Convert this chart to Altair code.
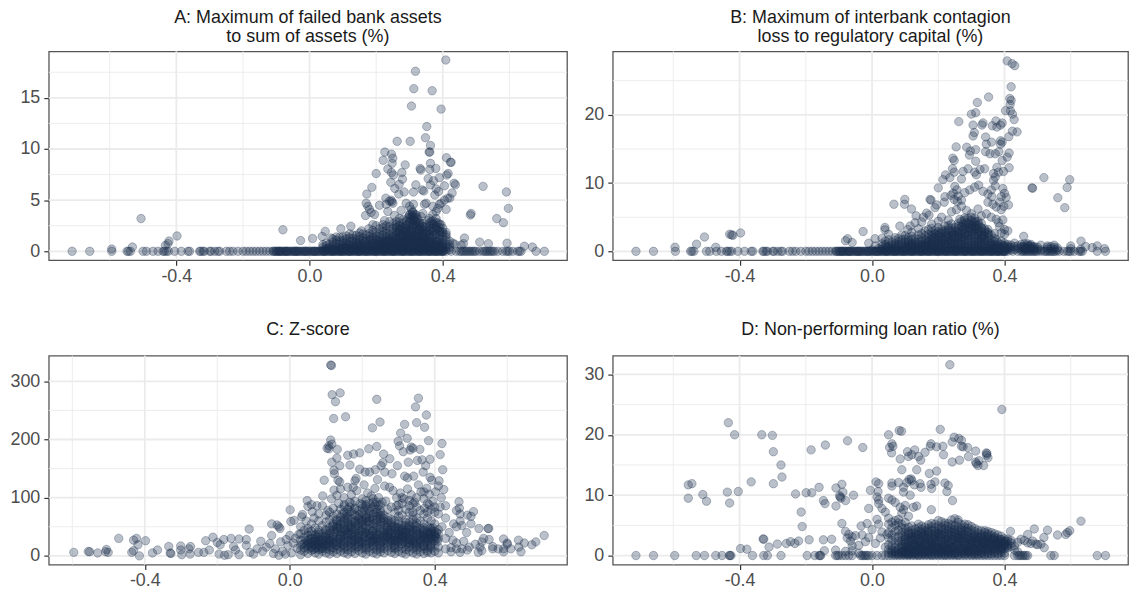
import altair as alt
import pandas as pd

# ---- shared baseline x values (points lying on y = 0 in A, near 0 in B)
base_x = [-.713,-.66,-.594,-.548,-.544,-.538,-.5,-.49,-.47,-.455,-.44,-.436,-.43,-.424,-.405,-.385,-.365,-.36,-.33,-.327,-.32,-.316,-.3,-.296,-.285,-.275,-.27,-.25,-.24,-.23,-.215,-.2,-.19,-.18,-.17,-.16,-.15,-.14,-.13,-.12,
 -.11,-.104,-.098,-.09,-.083,-.076,-.07,-.062,-.055,-.047,-.04,-.033,-.025,-.018,-.01,-.002,.006,.013,.021,.028,.036,.044,.05,.058,.066,.073,.08,.088,.096,.103,.11,.118,.125,.133,.141,.148,.155,.163,.17,.178,.186,.193,.2,.208,.215,.223,.231,.238,.246,.253,.26,.268,.276,.283,.29,.298,.306,.313,.32,.328,.336,.343,.35,.358,.366,.373,.38,.388,.396,.403,
 .41,.425,.44,.45,.455,.46,.465,.47,.475,.48,.485,.49,.495,.5,.51,.52,.525,.53,.535,.54,.545,.55,.555,.565,.58,.59,.595,.6,.61,.625,.63,.635,.68,.705]
zero_dense = [-.108,-.1,-.094,-.086,-.08,-.072,-.066,-.058,-.05,-.044,-.036,-.03,-.022,-.014,-.006,.002,.01,.017,.025,.032,.04,.047,.055,.062,.07,.077,.085,.092,.1,.107,.115,.122,.13,.137,.145,.152,.16,.167,.175,.182,.19,.197,.205,.212,.22,.227,.235,.242,.25,.257,.265,.272,.28,.287,.295,.302,.31,.317,.325,.332,.34,.347,.355,.362,.37,.377,.385,.392,.4,-.091,-.069,-.041,-.012,.015,.043,.068,.094,.12,.148,.171,.199,.224,.251,.279,.304,.33,.359,.381,.399]

a_upper = [(.409,18.7),(.318,17.6),(.313,15.9),(.368,15.7),(.306,14.2),(.395,13.9),(.352,12.2),(.348,11.1),(.263,10.75),(.302,10.75),(.363,10.35),(.226,9.7),(.246,9.5),(.359,9.7),(.361,9.7),(.411,9.15),(.221,8.9),(.25,9.1),(.423,8.7),(.425,8.7),(.363,8.6),(.248,8.6),(.287,8.45),(.332,8.1),(.334,7.95),(.235,8.05),(.361,8.0),(.379,8.1),(.2,7.6),(.246,7.7),(.252,7.45),(.277,7.7),(.416,7.6),(.412,7.45),(.356,7.1),(.279,7.05),(.244,6.75),(.269,6.55),(.319,6.5),(.363,6.5),(.434,6.65),(.438,6.5),(.187,6.25),(.256,6.15),(.338,6.0),(.343,5.9),(.312,5.8),(.284,5.8),(.268,5.6),(.172,5.6),(.387,5.85),(.376,5.5),(.428,5.7),(.229,5.2),(.245,5.0),(.421,5.2),(.372,6.9),(.39,7.2),(.405,6.4),(.38,6.1)]
a_mid = [(.17,4.7),(.175,4.4),(.18,4.1),(.168,3.5),(.185,3.8),(.195,3.6),(.19,2.6),(.2,2.5),(.22,2.6),(.23,4.6),(.24,4.9),(.247,4.85),(.25,4.7),(.235,3.9),(.255,3.5),(.26,2.9),(.27,3.2),(.275,4.0),(.29,4.7),(.3,4.4),(.305,4.1),(.31,3.8),(.3,3.5),(.315,3.3),(.32,2.9),(.335,3.4),(.345,4.6),(.35,4.7),(.36,3.2),(.365,2.9),(.37,4.4),(.38,3.9),(.385,4.2),(.39,4.6),(.395,4.7),(.405,5.0),(.41,4.1),(.415,5.2),(.38,3.2),(.385,2.8),(.395,2.6),(.34,3.7),(.355,3.0),(.33,2.7),(.21,4.5),(.225,3.0),(.312,4.6),(.37,3.6)]
a_sides = [(.521,6.35),(.591,5.8),(.597,4.2),(.485,3.7),(.483,3.55),(.562,3.2),(.582,2.8),(.465,1.3),(.511,.9),(.537,.75),(.593,.8),(.645,.5),(.669,.42),(.43,.8),(.436,.7),(.455,.6),(.462,.75),(-.506,3.2),(-.398,1.5),(-.422,1.0),(-.425,.75),(-.433,.58),(-.594,.22),(-.532,.42),(-.08,2.1),(-.027,1.05),(.009,1.25),(.047,1.95),(.038,1.45),(.094,2.2),(.124,2.45),(.065,1.3),(.156,2.0),(.16,1.7),(.178,2.2)]
a_columns = [(.04,[.15,.4,.65]),(.05,[.1,.25,.55,.8]),(.06,[.2,.4,.7,.3]),(.07,[.15,.35,.6,.9,1.2]),(.08,[.1,.3,.5,.8,1.1,1.4]),(.09,[.2,.45,.7,1.0,1.35]),(.1,[.1,.3,.55,.8,1.05,1.4]),(.11,[.15,.35,.6,.9,1.2,1.5]),(.12,[.2,.4,.65,.95,1.3,1.7]),(.13,[.1,.3,.5,.8,1.0,1.25,1.6]),(.14,[.15,.4,.7,.95,1.2,1.55]),(.15,[.2,.35,.6,.9,1.15,1.45,1.8]),(.16,[.1,.3,.55,.75,1.05,1.3]),(.17,[.2,.45,.7,1.0,1.25,1.6]),(.18,[.15,.35,.6,.85,1.1,1.45,1.75]),(.19,[.1,.3,.5,.8,1.05,1.35,1.7,2.05]),(.2,[.2,.4,.65,.9,1.2,1.5,1.85]),(.21,[.15,.35,.6,.85,1.1,1.4,1.7,2.2]),(.22,[.1,.3,.5,.75,1.0,1.3,1.6,1.95,2.3]),(.23,[.2,.4,.65,.9,1.15,1.45,1.75,2.1,2.5]),(.24,[.15,.35,.55,.8,1.05,1.3,1.6,2.0,2.4,2.9]),(.25,[.1,.3,.5,.7,.95,1.2,1.5,1.8,2.2,2.7]),(.26,[.2,.4,.6,.85,1.1,1.35,1.65,1.95,2.35,2.6]),(.27,[.15,.35,.55,.75,1.0,1.25,1.5,1.8,2.1,2.5,2.85]),(.28,[.1,.3,.5,.7,.9,1.15,1.4,1.7,2.0,2.3,2.75,3.1]),(.29,[.2,.4,.6,.8,1.05,1.3,1.55,1.85,2.15,2.55,2.95]),(.3,[.15,.35,.55,.75,.95,1.2,1.45,1.75,2.05,2.4,2.8,3.2,3.6]),(.31,[.1,.3,.5,.7,.9,1.1,1.35,1.65,1.95,2.3,2.65,3.05,3.4,3.85]),(.32,[.2,.4,.6,.8,1.05,1.3,1.6,1.9,2.2,2.55,2.95,3.55]),(.33,[.15,.35,.55,.75,1.0,1.25,1.5,1.85,2.15,2.5,2.8]),(.34,[.1,.3,.5,.7,.95,1.2,1.45,1.8,2.1,2.45,2.7]),(.35,[.2,.4,.6,.85,1.1,1.35,1.65,2.0,2.35]),(.36,[.15,.35,.55,.8,1.05,1.3,1.7,2.05,2.5,2.75]),(.37,[.1,.3,.5,.75,1.0,1.4,1.9,2.3,2.65,3.0]),(.38,[.2,.4,.65,.9,1.25,1.7,2.15,2.5,2.8]),(.39,[.15,.35,.6,.85,1.2,1.6,2.0,2.35,2.65]),(.4,[.1,.3,.55,.8,1.1,1.5,1.9,2.25]),(.41,[.2,.45,.7,1.05,1.4,1.85]),(.42,[.15,.4,.65,1.0])]
a_core = [(.215,.3),(.225,.7),(.235,1.0),(.245,.2),(.255,.9),(.265,1.3),(.275,.4),(.285,1.0),(.295,1.6),(.305,.5),(.315,1.2),(.325,2.0),(.335,.8),(.345,1.5),(.355,.3),(.265,1.9),(.275,1.6),(.285,2.3),(.295,.8),(.305,2.2),(.315,2.7),(.325,1.4),(.335,2.3),(.345,1.0),(.355,1.9),(.365,.9),(.375,1.6),(.385,1.1),(.395,.7),(.205,1.0),(.195,.6),(.185,1.2),(.175,.5),(.165,.9),(.155,.3),(.145,.8),(.135,.4),(.125,.2),(.115,.7),(.105,.4),(.095,.3),(.253,.5),(.268,.7),(.283,.5),(.298,.3),(.308,1.4),(.318,.8),(.328,.3),(.338,1.6),(.348,.6),(.358,.9),(.368,.4),(.378,.7),(.388,.5),(.398,.3),(.238,.5),(.228,.2),(.218,.9),(.208,.4),(.198,.2),(.188,.8),(.262,2.3),(.312,3.1),(.302,2.9),(.322,3.3),(.308,3.6),(.29,2.5),(.276,2.3),(.342,2.4),(.37,2.7),(.38,2.3),(.392,1.9)]
a_extra = [(.272,.4),(.281,.8),(.289,1.2),(.297,1.6),(.303,2.0),(.311,.6),(.318,1.0),(.326,1.7),(.333,.4),(.341,1.1),(.349,1.8),(.357,.5),(.366,1.3),(.374,.4),(.382,.9),(.391,.5),(.26,.8),(.252,1.4),(.244,.6),(.236,1.2),(.228,.9),(.22,.5),(.212,.7),(.204,.2),(.3,1.0),(.31,2.5),(.32,1.5),(.33,2.1),(.29,2.0),(.28,1.6),(.27,2.1),(.35,.9),(.36,1.6),(.34,.7),(.305,3.2),(.316,3.6),(.326,3.1),(.296,3.3),(.364,2.2),(.384,2.1),(.373,2.0),(.4,1.8),(.41,1.6),(.25,.3),(.17,.2),(.15,.5),(.13,.2),(.11,.3),(.09,.2),(.07,.2)]

b_upper = [(.408,27.9),(.423,27.5),(.431,27.2),(.42,24.1),(.352,22.6),(.318,21.8),(.416,22.4),(.42,22.1),(.417,21.5),(.403,20.6),(.418,20.6),(.3,20.1),(.313,20.3),(.424,20.1),(.429,19.3),(.262,19),(.374,19.1),(.305,18.5),(.335,18.8),(.332,18.5),(.363,18.4),(.377,18.2),(.393,18.8),(.388,18.5),(.309,17.4),(.305,16.9),(.424,17.6),(.438,17.5),(.413,16.8),(.343,16.75),(.345,15.7),(.361,16),(.388,16.2),(.393,16),(.388,15.7),(.254,15.3),(.286,15.25),(.313,14.9),(.297,14.7),(.294,14.1),(.343,14.6),(.356,14.3),(.372,14.3),(.383,14.6),(.414,14.4),(.408,13.8),(.244,13.65),(.248,13.3),(.313,13.2),(.393,13.3),(.243,12.1),(.248,11.6),(.29,12.1),(.275,11.7),(.326,12),(.34,12.1),(.377,12.3),(.382,11.6),(.414,12.25),(.397,11.7),(.222,11.2),(.214,10.5),(.27,10.6),(.31,11.6),(.315,11.2),(.367,11.4),(.372,10.9),(.367,10.4),(.2,9.3),(.235,10.8)]
b_mid = [(.25,9.5),(.256,9.0),(.245,8.5),(.238,8.2),(.26,8.1),(.248,7.6),(.258,7.3),(.27,7.5),(.28,8.6),(.295,9.0),(.31,9.4),(.322,9.7),(.335,8.8),(.35,8.4),(.36,9.0),(.362,8.0),(.372,9.6),(.395,9.2),(.4,8.5),(.405,7.9),(.39,8.0),(.385,7.2),(.412,6.8),(.35,7.2),(.365,6.9),(.375,6.5),(.39,6.1),(.398,6.6),(.22,8.0),(.218,7.2),(.175,7.6),(.178,7.5),(.195,6.8),(.19,6.4),(.165,5.6),(.172,5.3),(.155,5.0),(.21,5.0),(.24,5.8),(.255,6.1),(.27,6.6),(.285,6.0),(.3,5.5),(.32,6.2),(.33,5.2),(.345,5.5),(.36,5.0),(.375,4.7),(.382,4.2),(.395,4.6),(.385,3.6),(.4,3.2),(.41,3.0),(.39,2.7),(.4,2.5),(.13,4.2),(.14,3.3),(.15,4.3),(.18,4.0),(.2,4.4),(.23,4.6),(.265,4.7),(.28,4.9)]
b_sides = [(.519,10.8),(.597,10.5),(.589,9.35),(.483,9.3),(.485,9.25),(.561,7.85),(.582,6.4),(.458,2.2),(.631,1.5),(.645,.7),(.665,.55),(.68,.8),(.702,.4),(-.506,2.1),(-.53,1.05),(-.595,.6),(-.472,.6),(-.43,2.5),(-.42,2.35),(-.424,2.4),(-.397,2.7),(.066,6.9),(.099,7.6),(.098,6.9),(.119,6.2),(.133,5.2),(.039,3.5),(.039,3.15),(-.027,2.9),(-.074,1.85),(-.08,1.55),(.009,1.85),(.084,3.7),(.115,3.7),(.108,3.2),(.05,2.5),(.03,1.9),(-.06,1.3),(-.01,1.2)]
b_columns = [(.03,[.3,.7,1.1]),(.04,[.2,.6,1.0,1.5]),(.05,[.3,.7,1.2,1.7]),(.06,[.2,.5,.9,1.3]),(.07,[.3,.7,1.1,1.6,2.0]),(.08,[.2,.6,1.0,1.4,1.9]),(.09,[.3,.7,1.2,1.7,2.4]),(.1,[.2,.5,.9,1.3,1.8,2.3]),(.11,[.3,.6,1.0,1.4,2.0]),(.12,[.2,.5,.8,1.2,1.7,2.2,2.8]),(.13,[.3,.6,1.0,1.4,1.9]),(.14,[.2,.5,.9,1.3,1.8,2.4]),(.15,[.3,.6,1.0,1.5,2.0,2.6]),(.16,[.2,.5,.8,1.2,1.7,2.3,3.0]),(.17,[.3,.6,1.0,1.4,1.9,2.5,3.2]),(.18,[.2,.5,.9,1.3,1.8,2.2,2.8,3.4]),(.19,[.3,.6,1.0,1.5,2.0,2.6,3.1]),(.2,[.2,.5,.8,1.2,1.7,2.3,2.9,3.5]),(.21,[.3,.7,1.1,1.6,2.1,2.6,3.2]),(.22,[.2,.5,.9,1.3,1.8,2.4,3.0,3.7]),(.23,[.3,.6,1.0,1.5,2.0,2.5,3.1,3.8]),(.24,[.2,.5,.8,1.2,1.7,2.2,2.8,3.4,4.0]),(.25,[.3,.6,1.0,1.4,1.9,2.4,2.9,3.5]),(.26,[.2,.5,.9,1.3,1.8,2.3,2.8,3.3,4.1]),(.27,[.3,.6,1.0,1.5,2.0,2.5,3.0,3.7,4.4]),(.28,[.2,.5,.8,1.2,1.7,2.2,2.7,3.2,3.8,4.6]),(.29,[.3,.6,1.0,1.4,1.9,2.4,2.9,3.5,4.2,4.8]),(.3,[.2,.5,.9,1.3,1.8,2.3,2.8,3.3,3.9,4.5,5.0]),(.31,[.3,.6,1.0,1.5,2.0,2.5,3.0,3.6,4.3,4.9]),(.32,[.2,.5,.8,1.2,1.7,2.2,2.7,3.2,3.8,4.4]),(.33,[.3,.6,1.0,1.4,1.9,2.4,2.9,3.5,4.1]),(.34,[.2,.5,.9,1.3,1.8,2.3,2.8,3.3]),(.35,[.3,.6,1.0,1.5,2.0,2.6,3.2]),(.36,[.2,.5,.8,1.2,1.7,2.4]),(.37,[.3,.6,1.0,1.4,1.9,2.6]),(.38,[.2,.5,.9,1.3]),(.39,[.3,.6,1.0,1.5]),(.4,[.2,.5,.9,1.2]),(.41,[.3,.7,1.0]),(.42,[.2,.6,.9]),(.43,[.3,.7,1.2]),(.44,[.4,.8]),(.45,[.3,.6,1.0]),(.46,[.2,.5,.8,1.1]),(.47,[.3,.6,.9,1.1]),(.48,[.3,.5,.8,1.0]),(.49,[.2,.5,.7]),(.5,[.3,.6]),(.51,[.2,.9]),(.53,[.3,.6,.8]),(.54,[.4,.7]),(.55,[.3,.6,.9]),(.56,[.2,.5]),(.6,[.8,.4]),(.63,[.3])]
b_core = [(.105,.4),(.115,.8),(.125,.3),(.135,1.1),(.145,.6),(.155,.2),(.165,1.0),(.175,.5),(.185,1.5),(.195,.3),(.205,1.0),(.215,1.8),(.225,.7),(.235,1.3),(.245,2.2),(.255,.4),(.265,1.2),(.275,2.0),(.285,.6),(.295,1.6),(.305,2.6),(.315,.8),(.325,1.5),(.335,2.2),(.345,.5),(.355,1.2),(.365,.4),(.375,.8),(.385,.3),(.395,.8),(.162,1.6),(.182,2.4),(.202,2.1),(.222,2.7),(.242,3.0),(.262,2.6),(.282,3.4),(.302,3.7),(.312,3.3),(.322,3.0),(.342,3.0),(.352,2.4),(.272,3.6),(.292,4.0),(.312,4.4),(.322,4.0),(.262,3.7),(.232,3.4),(.212,2.9),(.192,2.5),(.11,1.6),(.09,1.0),(.07,.4),(.05,.4),(.02,.4),(.0,.2),(.01,.8),(.375,1.7),(.405,.4),(.415,.5),(.455,.7),(.465,.4),(.475,.8),(.485,.6)]
b_extra = [(.13,.5),(.15,.9),(.17,1.3),(.19,.8),(.21,1.4),(.23,2.0),(.25,1.1),(.27,1.7),(.29,2.3),(.31,1.3),(.33,1.9),(.35,2.8),(.22,1.1),(.24,1.6),(.26,2.1),(.28,2.5),(.3,3.0),(.32,2.5),(.34,1.6),(.2,1.5),(.18,1.0),(.16,.7),(.14,.3),(.12,.9),(.1,.6),(.255,2.9),(.275,3.2),(.295,3.4),(.315,3.8),(.33,3.4),(.305,4.2),(.285,4.2),(.275,4.1),(.245,2.5),(.225,2.2),(.205,2.6),(.185,2.0),(.36,.9),(.38,.6),(.4,.7),(.07,.7),(.03,.2),(.045,.7)]

c_upper = [(.113,328),(.115,327),(.117,277),(.139,280),(.126,265),(.24,269),(.355,271),(.347,256),(.377,242),(.121,236),(.154,239),(.249,230),(.35,229),(.317,226),(.372,221),(.228,220),(.306,211),(.324,202),(.383,198),(.42,193),(.113,199),(.116,192),(.108,189),(.299,197),(.303,189),(.24,188),(.218,184),(.335,187),(.34,185),(.332,182),(.103,185),(.108,184),(.131,183),(.359,183),(.313,179),(.193,177),(.176,175),(.16,173),(.259,175),(.415,174),(.116,161),(.13,168),(.138,155),(.166,156),(.276,167),(.257,160),(.252,155),(.365,165),(.352,164),(.387,166),(.375,155),(.297,155),(.327,161),(.422,148),(.122,147),(.123,141),(.193,149),(.208,144),(.22,144),(.236,148),(.368,144),(.342,137),(.317,137),(.325,134),(.183,133),(.18,129),(.095,130),(.133,130),(.138,127),(.242,131),(.282,141),(.262,144),(.387,135),(.392,130),(.412,129)]
c_mid = [(.091,103),(.122,113),(.14,115),(.115,98),(.13,104),(.15,100),(.16,118),(.175,118),(.17,105),(.185,112),(.2,98),(.205,122),(.215,108),(.225,103),(.235,116),(.245,100),(.255,92),(.262,120),(.275,118),(.285,112),(.295,100),(.305,108),(.315,98),(.325,115),(.335,105),(.345,92),(.355,122),(.362,110),(.37,98),(.378,116),(.385,106),(.395,94),(.402,110),(.41,120),(.418,100),(.425,114),(.43,86),(.415,84),(.4,84),(.385,88),(.372,82),(.35,84),(.33,86),(.31,90),(.295,86),(.28,84),(.265,94),(.245,86),(.23,92),(.21,88),(.195,90),(.18,94),(.165,92),(.15,88),(.135,90),(.12,82),(.105,78),(.09,86),(.075,86),(.06,88),(.048,95),(.05,85),(.035,71),(.033,67),(.062,76),(.08,72),(.045,60),(.067,65),(.16,80),(.2,82),(.25,78),(.3,78),(.34,75),(.38,75),(.41,72),(.43,65),(.42,50),(.44,40),(.46,78),(.468,82),(.47,72),(.452,55),(.46,50),(.47,60),(.49,70),(.5,68),(.5,55),(.488,40),(.475,52)]
c_sides = [(.467,93),(.507,76),(.547,47),(.549,47),(.522,47),(.702,35),(.679,24),(.631,27),(.647,22),(.668,19),(.632,15),(.638,7),(.59,29),(.6,20),(.59,12),(.59,7),(.6,22),(.61,12),(.56,16),(.55,28),(.535,30),(.53,24),(.525,15),(.53,9),(.52,6),(.512,20),(.495,15),(.48,25),(.475,12),(.49,10),(.47,6),(.46,22),(.45,27),(.445,14),(.445,7),(.43,12),(.46,12),(.43,30),(.56,12),(.575,12),
 (-.472,30),(-.423,30),(-.431,27),(-.398,26),(-.419,19),(-.596,6),(-.556,7.5),(-.552,7),(-.53,5),(-.506,11),(-.508,7),(-.501,6),(-.436,6),(-.431,9),(-.415,0),(-.379,5),(-.365,10),(-.334,16),(-.33,5),(-.328,4),(-.301,17),(-.301,10),(-.298,2),(-.274,16),(-.278,12),(-.275,3),(-.252,6),(-.237,6),(-.222,10),(-.212,32),(-.232,26),(-.2,23),(-.192,19),(-.182,28),(-.162,30),(-.14,29),(-.12,28),(-.155,16),(-.15,10),(-.14,2),(-.195,3),(-.18,1),(-.17,2),(-.112,46),(-.05,55),(-.03,50),(-.027,47),(-.035,53),(.001,79),(.003,59),(.012,61),(-.12,18),(-.11,6),(-.1,3),(-.09,12),(-.08,25),(-.075,8),(-.065,15),(-.055,21),(-.05,35),(-.045,4),(-.04,12),(-.03,1),(-.025,24),(-.02,8),(-.012,3),(-.01,28),(-.005,18),(.0,35),(.005,5),(.01,22),(.015,30),(.02,13),(.025,37),(.03,2)]
c_columns = [(.03,[10,18,27,38,50]),(.04,[8,14,22,32,44]),(.05,[4,12,19,26,35,47]),(.06,[9,16,24,30,42,55]),(.07,[5,13,20,28,36,48]),(.08,[3,11,18,25,33,44,60]),(.09,[8,15,22,29,38,52]),(.1,[5,12,19,26,34,43,58,70]),(.11,[3,10,17,24,31,39,48,62,75]),(.12,[7,14,21,28,36,45,55,68]),(.13,[4,11,18,25,33,41,50,60,72]),(.14,[8,15,23,30,38,46,55,66,80]),(.15,[5,12,20,27,35,43,52,62,74,85]),(.16,[3,10,17,25,32,40,49,58,68]),(.17,[7,14,22,29,37,45,54,64,76,90]),(.18,[4,12,19,27,34,42,51,60,70,82]),(.19,[9,16,24,31,39,47,56,66,78]),(.2,[5,13,21,28,36,44,53,63,74,88]),(.21,[3,11,18,26,33,41,50,60,70,85,95]),(.22,[8,15,23,30,38,46,55,65,76,90]),(.23,[5,12,20,28,35,43,52,62,72,84,98]),(.24,[3,10,18,25,33,41,50,58,68,80,92]),(.25,[7,15,22,30,38,46,54,64,74,88]),(.26,[5,13,21,28,36,44,52,60,70]),(.27,[9,16,24,32,40,48,56,66,80]),(.28,[6,14,22,29,37,45,53,62]),(.29,[4,12,20,27,35,43,50,60,74]),(.3,[8,16,24,31,39,47,55,68,88]),(.31,[5,13,21,29,37,45,53,70,100]),(.32,[3,11,19,27,35,43,52,62,80]),(.33,[8,16,24,32,40,48,58,75,95]),(.34,[5,13,21,29,37,45,55,70,90]),(.35,[3,10,18,26,34,42,50,65,100]),(.36,[7,15,23,31,39,47,60,78]),(.37,[4,12,20,28,36,44,55,72,110]),(.38,[9,6,17,25,33,41,50,65,90]),(.39,[5,13,22,30,38,46,60,80]),(.4,[8,18,26,34,42,55,75]),(.41,[5,15,30,38,45])]
c_core = [(.045,17),(.055,29),(.065,11),(.075,24),(.085,16),(.095,33),(.105,22),(.115,14),(.125,41),(.135,29),(.145,19),(.155,36),(.165,48),(.175,26),(.185,15),(.195,43),(.205,32),(.215,58),(.225,24),(.235,47),(.245,36),(.255,57),(.265,27),(.275,41),(.285,33),(.295,49),(.305,28),(.315,41),(.325,23),(.335,37),(.345,52),(.355,30),(.365,44),(.375,24),(.385,37),(.395,28),(.405,40),(.052,41),(.072,33),(.092,21),(.112,44),(.132,55),(.152,66),(.172,59),(.192,71),(.212,64),(.232,56),(.252,69),(.272,60),(.292,38),(.312,33),(.332,44),(.352,37),(.372,31),(.392,41),(.062,19),(.082,28),(.102,38),(.122,25),(.142,41),(.162,53),(.182,38),(.202,48),(.222,35),(.242,29),(.262,40),(.282,50),(.302,35),(.322,48),(.342,25),(.362,35),(.382,29),(.402,33),(.068,25),(.088,12),(.108,29),(.128,18),(.148,30),(.168,22),(.188,30),(.208,20),(.228,43),(.248,18),(.268,34),(.288,18),(.308,20),(.328,15),(.348,20),(.368,18),(.388,15),(.408,25),(.158,72),(.178,80),(.198,60),(.218,72),(.238,75),(.258,65),(.128,62),(.148,58),(.118,52),(.098,45),(.078,40),(.138,48),(.168,38),(.188,52),(.208,40),(.228,26),(.248,42),(.268,50),(.288,27),(.308,42),(.328,30),(.348,45),(.368,40),(.388,48),(.155,44),(.175,34),(.195,25),(.215,38),(.235,30),(.255,24),(.275,30),(.295,25),(.315,34),(.335,28)]
c_extra = [(.05,21),(.06,14),(.07,29),(.08,21),(.09,13),(.1,30),(.11,20),(.12,33),(.13,22),(.14,34),(.15,24),(.16,37),(.17,26),(.18,46),(.19,35),(.2,24),(.21,47),(.22,33),(.23,24),(.24,37),(.25,26),(.26,33),(.27,44),(.28,26),(.29,31),(.3,43),(.31,33),(.32,40),(.33,28),(.34,41),(.35,22),(.36,27),(.37,32),(.38,37),(.39,34),(.4,38),(.405,30),(.39,42),(.395,48),(.385,30),(.12,50),(.13,47),(.14,60),(.15,47),(.16,64),(.17,50),(.18,57),(.19,62),(.2,58),(.21,66),(.22,60),(.23,67),(.24,63),(.25,59),(.145,72),(.165,75),(.185,68),(.205,78),(.225,82),(.245,72),(.165,84),(.215,80),(.235,88),(.1,17),(.11,27),(.06,36),(.07,18),(.08,37),(.09,26),(.075,14),(.055,21),(.045,27),(.035,20),(.15,15),(.17,17),(.19,20),(.21,14),(.23,17),(.25,12),(.27,20),(.29,14),(.31,25),(.33,21),(.35,15),(.37,16),(.39,19),(.27,36),(.31,47),(.33,52),(.35,56),(.29,46),(.37,48),(.28,58),(.3,60),(.32,57),(.34,62)]

d_upper = [(.235,31.6),(.392,24.2),(-.434,22),(-.415,20),(-.333,20),(-.301,19.9),(.206,20.9),(.082,20.7),(.089,20.6),(.05,20),(-.074,19),(-.141,18.3),(-.028,17.9),(-.184,17.5),(-.298,17.2),(.06,18.5),(.053,17.9),(.063,18.1),(.059,17),(-.275,15),(-.272,13),(-.365,12.2),(-.298,11.9),(-.555,11.7),(-.544,11.9),(-.511,10.1),(-.555,9.5),(-.5,9),(-.437,10.5),(-.404,10.6),(-.43,8.7),(-.231,10.2),(-.199,10.4),(-.182,10.4),(-.16,11.3),(-.147,9.1),(-.142,8.6),(-.109,11.2),(-.091,11.8),(-.088,10.5),(-.096,9.7),(-.098,9.9),(-.094,9.5),(-.08,9.1),(-.109,8.2),(-.056,10),(-.214,7.2),(-.211,4.8),(-.091,5.3)]
d_arc = [(.085,16),(.107,17.2),(.12,16.7),(.11,16.4),(.129,17.5),(.147,15.8),(.14,16.4),(.16,17.1),(.176,18.1),(.178,18.5),(.195,18),(.214,18.1),(.216,16.7),(.242,18.8),(.248,19.6),(.262,19.4),(.27,19.1),(.27,18.1),(.275,18),(.289,17.9),(.291,16.4),(.313,17.3),(.264,15.8),(.242,15.5),(.313,15.5),(.315,15.2),(.32,14.9),(.323,15.7),(.337,14.9),(.35,16.2),(.345,17),(.347,16.9),(.346,16.6),(.09,14.2),(.135,14.2),(.173,13.6),(.195,14),(.012,12.2),(.02,11.9),(.06,12),(.06,11.5),(.08,12.1),(.095,11.3),(.105,12.1),(.112,12.6),(.118,12.7),(.12,12.4),(.145,11.9),(.128,11.7),(.148,11.3),(.178,11.8),(.18,11.1),(.19,12.2),(.22,12),(.23,11.6),(.226,10.6),(.243,9.1),(-.005,10.8),(.018,10.6),(.015,9.7),(.02,9.2),(.02,8.6),(.05,9.5),(.06,9.2),(.07,8.8),(.095,10.5),(.115,10),(.085,8),(.1,8.3),(.095,7.6),(.135,8.2),(.125,8.0),(-.01,7.8),(.03,7.8),(.04,7.2),(.09,7.0),(.11,6.5),(.179,7.6),(.05,6.2),(.07,5.8),(.015,6),(.02,5.2),(-.015,5.3),(-.033,4.9)]
d_left = [(-.329,2.75),(-.327,2.7),(-.19,2.6),(-.147,2.6),(-.122,2.7),(-.246,2.3),(-.259,2),(-.233,2),(-.222,2.4),(-.286,1.9),(-.311,1.4),(-.397,1.15),(-.378,1.05),(-.08,4),(-.07,3.5),(-.06,3.1),(-.075,2.9),(-.065,2.4),(-.05,3.3),(-.04,1.7),(-.06,1.6),(-.03,3.4),(-.02,2.3),(-.01,3.0),(.0,4.3),(.01,2.0),(.03,3.9),(.025,2.9),(.04,1.4),(.045,3.5),(-.144,.8),(-.11,.9),(-.08,.7),(-.06,.8),(-.04,.4),(.52,1.3),(.47,3.5),(.49,4.4),(.519,3.0),(.53,4.2),(.56,3.4),(.585,3.5),(.59,3.8),(.597,4.1),(.631,5.7),(.418,4.0),(.5,1.8),(.48,2.0),(.47,2.1),(.51,1.9),(.46,2.5),(.44,2.2),(.45,2.7),(.485,2.4),(.495,1.9),(.43,1.6),(.43,.9),(.44,.6)]
d_zero = [-.713,-.66,-.596,-.531,-.506,-.472,-.453,-.431,-.429,-.426,-.361,-.327,-.316,-.275,-.196,-.173,-.16,-.157,-.155,-.11,-.105,-.1,-.09,-.08,-.07,-.06,-.035,-.03,-.025,-.02,-.015,-.01,.0,.015,.03,.04,.05,.06,.07,.08,.09,.1,.11,.12,.13,.14,.15,.16,.17,.18,.19,.2,.21,.22,.23,.24,.25,.26,.27,.28,.29,.3,.31,.32,.33,.34,.35,.36,.37,.38,.39,.4,.43,.44,.445,.45,.455,.46,.465,.47,.54,.55,.68,.705]
d_columns = [(.05,[.4,1.0,1.8,2.9,3.8,5.2]),(.06,[.3,.9,1.6,2.5,3.4,4.6,5.5]),(.07,[.2,.7,1.3,2.0,3.0,4.0,5.0]),(.08,[.4,1.0,1.7,2.4,3.2,4.2,5.4,6.0]),(.09,[.2,.7,1.2,1.8,2.4,3.1,3.8,4.6,5.2]),(.1,[.4,.9,1.4,2.0,2.6,3.2,3.9,4.5,5.5]),(.11,[.2,.6,1.1,1.6,2.2,2.8,3.4,4.0,4.7]),(.12,[.4,.8,1.3,1.8,2.4,3.0,3.6,4.2,4.9]),(.13,[.2,.6,1.0,1.5,2.0,2.6,3.2,3.8,4.4]),(.14,[.4,.8,1.2,1.7,2.2,2.8,3.4,4.0,4.6,5.2]),(.15,[.2,.6,1.0,1.5,2.0,2.5,3.1,3.7,4.3,4.9]),(.16,[.4,.8,1.3,1.8,2.3,2.9,3.5,4.1,4.7]),(.17,[.2,.6,1.1,1.6,2.1,2.7,3.3,3.9,4.5,5.1]),(.18,[.4,.9,1.4,1.9,2.4,3.0,3.6,4.2,4.8,5.3]),(.19,[.2,.7,1.2,1.7,2.2,2.8,3.4,4.0,4.6,5.2]),(.2,[.4,.9,1.4,1.9,2.5,3.1,3.7,4.3,4.9,5.8]),(.21,[.2,.7,1.2,1.7,2.3,2.9,3.5,4.1,4.7,5.6]),(.22,[.4,.9,1.4,2.0,2.6,3.2,3.8,4.4,5.0,5.4]),(.23,[.2,.7,1.2,1.8,2.4,3.0,3.6,4.2,4.8,5.3]),(.24,[.4,.9,1.5,2.1,2.7,3.3,3.9,4.5,5.1,5.9]),(.25,[.2,.8,1.4,2.0,2.6,3.2,3.8,4.4,5.0,6.1]),(.26,[.5,1.1,1.7,2.3,2.9,3.5,4.1,4.7,5.5,5.9]),(.27,[.3,.9,1.5,2.1,2.7,3.3,3.9,4.5,5.1]),(.28,[.5,1.1,1.7,2.3,2.9,3.5,4.1,4.7,5.2]),(.29,[.3,.9,1.5,2.1,2.7,3.3,3.9,4.5,5.1]),(.3,[.6,1.2,1.8,2.4,3.0,3.6,4.2,4.8]),(.31,[.4,1.0,1.6,2.2,2.8,3.4,4.0,4.5]),(.32,[.7,1.3,1.9,2.5,3.1,3.7,4.2]),(.33,[.5,1.1,1.7,2.3,2.9,3.5,4.1]),(.34,[.8,1.4,2.0,2.6,3.2,3.8,4.1]),(.35,[.6,1.2,1.8,2.4,3.0,3.6,4.0]),(.36,[.9,1.5,2.1,2.7,3.3,3.8]),(.37,[.7,1.3,1.9,2.5,3.1,3.6]),(.38,[1.0,1.6,2.2,2.8,3.4]),(.39,[.8,1.4,2.0,2.6,3.2]),(.4,[1.1,1.7,2.3,2.8]),(.41,[1.3,1.9,2.4,2.7]),(.42,[1.5,2.1,2.5])]
d_core = [(.095,.8),(.105,1.6),(.115,2.5),(.125,.5),(.135,1.3),(.145,2.4),(.155,3.3),(.165,.7),(.175,1.5),(.185,2.7),(.195,3.7),(.205,.6),(.215,1.5),(.225,2.7),(.235,3.9),(.245,.9),(.255,1.7),(.265,2.6),(.275,3.6),(.285,.8),(.295,2.0),(.305,3.0),(.315,.7),(.325,1.6),(.335,2.6),(.345,1.1),(.355,2.1),(.365,1.2),(.375,2.2),(.385,1.3),(.395,2.3),(.405,1.5),(.1,3.0),(.11,3.7),(.12,1.6),(.13,2.9),(.14,1.5),(.15,3.9),(.16,2.1),(.17,3.6),(.18,1.1),(.19,3.1),(.2,2.2),(.21,4.4),(.22,1.7),(.23,3.3),(.24,1.3),(.25,3.5),(.26,2.1),(.27,4.2),(.28,1.4),(.29,3.0),(.3,1.6),(.31,3.2),(.32,2.2),(.33,3.2),(.34,1.7),(.35,2.7),(.36,1.8),(.37,2.9),(.38,2.0),(.39,1.1),(.4,2.0),(.41,1.6),(.09,1.5),(.1,.2),(.12,.2),(.14,.1),(.16,.2),(.18,.1),(.2,.2),(.22,.1),(.24,.2),(.26,.1),(.28,.2),(.3,.2),(.32,.2),(.34,.2),(.36,.3),(.38,.3),(.4,.4),(.092,.4),(.112,.5),(.132,.3),(.152,.4),(.172,.4),(.192,.5),(.212,.5),(.232,.5),(.252,.5),(.272,.6),(.292,.6),(.312,.8),(.332,.9),(.352,1.0),(.372,1.0),(.392,1.2)]
d_extra = [(.098,2.3),(.108,1.1),(.118,3.2),(.128,2.0),(.138,3.5),(.148,1.0),(.158,2.6),(.168,4.1),(.178,2.2),(.188,3.5),(.198,1.2),(.208,2.8),(.218,3.5),(.228,1.2),(.238,2.3),(.248,4.2),(.258,2.9),(.268,1.2),(.278,2.4),(.288,4.0),(.298,2.6),(.308,1.2),(.318,2.8),(.328,1.2),(.338,2.2),(.348,3.3),(.358,1.5),(.368,2.5),(.378,1.6),(.388,2.7),(.398,1.6),(.103,.6),(.123,2.8),(.143,1.9),(.163,3.0),(.183,1.7),(.203,3.5),(.223,.8),(.243,2.6),(.263,3.2),(.283,1.9),(.303,2.3),(.323,2.8),(.343,2.4),(.363,2.8),(.383,2.4),(.403,2.4),(.113,1.4),(.133,3.6),(.153,1.2),(.173,2.5),(.193,1.4),(.213,2.3),(.233,2.1),(.253,1.2),(.273,3.0),(.293,1.2),(.313,1.9),(.333,1.9),(.353,1.6),(.373,1.6),(.393,1.8),(.07,.5),(.08,.2),(.06,.6),(.09,.6),(.11,.2),(.13,.6),(.15,.7),(.17,.9),(.19,.9),(.21,.9),(.23,.9),(.25,.4),(.27,.9),(.29,.7),(.31,.2),(.33,.3),(.35,.3),(.37,.4),(.39,.5)]

major_x = [-.4, 0, .4]
minor_x = [-.6, -.2, .2, .6]

FONT = "Liberation Sans"
POINT = "#1b2f4c"
GRID = "#ebebeb"


def flatten(columns):
    return [(x, y) for x, ys in columns for y in ys]


def panel(title, rows, xdom, ydom, ymajor, yminor, offset, width):
    df = pd.DataFrame(rows, columns=["x", "y"])
    xs = alt.Scale(domain=xdom, nice=False, zero=False)
    ys = alt.Scale(domain=ydom, nice=False, zero=False)
    xaxis = alt.Axis(values=major_x, grid=False, domain=False, title=None,
                     labelExpr="replace(format(datum.value,'.1f'),'\u2212','-')",
                     tickColor="#333333", tickSize=5, tickWidth=1.2, labelColor="#4d4d4d",
                     labelFontSize=18, labelFont=FONT, labelPadding=2)
    yaxis = alt.Axis(values=ymajor, grid=False, domain=False, title=None, tickColor="#333333", tickSize=5,
                     tickWidth=1.2, labelColor="#4d4d4d", labelFontSize=18, labelFont=FONT,
                     labelPadding=4, minExtent=40, maxExtent=40)

    def vrules(vals, w):
        return alt.Chart(pd.DataFrame({"v": vals})).mark_rule(color=GRID, strokeWidth=w).encode(x=alt.X("v:Q", scale=xs, axis=xaxis))

    def hrules(vals, w):
        return alt.Chart(pd.DataFrame({"v": vals})).mark_rule(color=GRID, strokeWidth=w).encode(y=alt.Y("v:Q", scale=ys, axis=yaxis))

    pts = alt.Chart(df).mark_circle(size=72, fill=POINT, stroke=POINT, fillOpacity=0.3, strokeOpacity=0.3, strokeWidth=1).encode(
        x=alt.X("x:Q", scale=xs, axis=xaxis),
        y=alt.Y("y:Q", scale=ys, axis=yaxis),
    )
    return alt.layer(vrules(minor_x, .9), hrules(yminor, .9), vrules(major_x, 1.8), hrules(ymajor, 1.8), pts).properties(
        width=width, height=210,
        title=alt.Title(title, font=FONT, fontSize=18, fontWeight="normal", color="#1a1a1a", anchor="middle", offset=offset, lineHeight=20),
    )


a_rows = [(x, 0) for x in base_x + zero_dense] + a_upper + a_mid + a_sides + flatten(a_columns) + a_core + a_extra
b_rows = [(x, 0) for x in base_x + zero_dense] + b_upper + b_mid + b_sides + flatten(b_columns) + b_core + b_extra
c_rows = c_upper + c_mid + c_sides + flatten(c_columns) + c_core + c_extra
d_rows = [(x, 0) for x in d_zero] + d_upper + d_arc + d_left + flatten(d_columns) + d_core + d_extra

xa = [-.783, .773]
xc = [-.665, .765]
A = panel(["A: Maximum of failed bank assets", "to sum of assets (%)"], a_rows, xa, [-.87, 19.55], [0, 5, 10, 15], [2.5, 7.5, 12.5, 17.5], 4, 521)
B = panel(["B: Maximum of interbank contagion", "loss to regulatory capital (%)"], b_rows, xa, [-1.3, 29.3], [0, 10, 20], [5, 15, 25], 4, 518)
C = panel("C: Z-score", c_rows, xc, [-15, 344], [0, 100, 200, 300], [50, 150, 250], 16, 521)
D = panel("D: Non-performing loan ratio (%)", d_rows, xa, [-1.5, 33.1], [0, 10, 20, 30], [5, 15, 25], 16, 518)

chart = alt.vconcat(alt.hconcat(A, B, spacing=3), alt.hconcat(C, D, spacing=3), spacing=34).properties(
    padding={"left": 0, "top": -2, "right": 0, "bottom": -1}
).configure_view(stroke="#555555", strokeWidth=1.3).configure_concat(spacing=3)
chart.save("out.html", embed_options={"renderer": "svg", "actions": False})
